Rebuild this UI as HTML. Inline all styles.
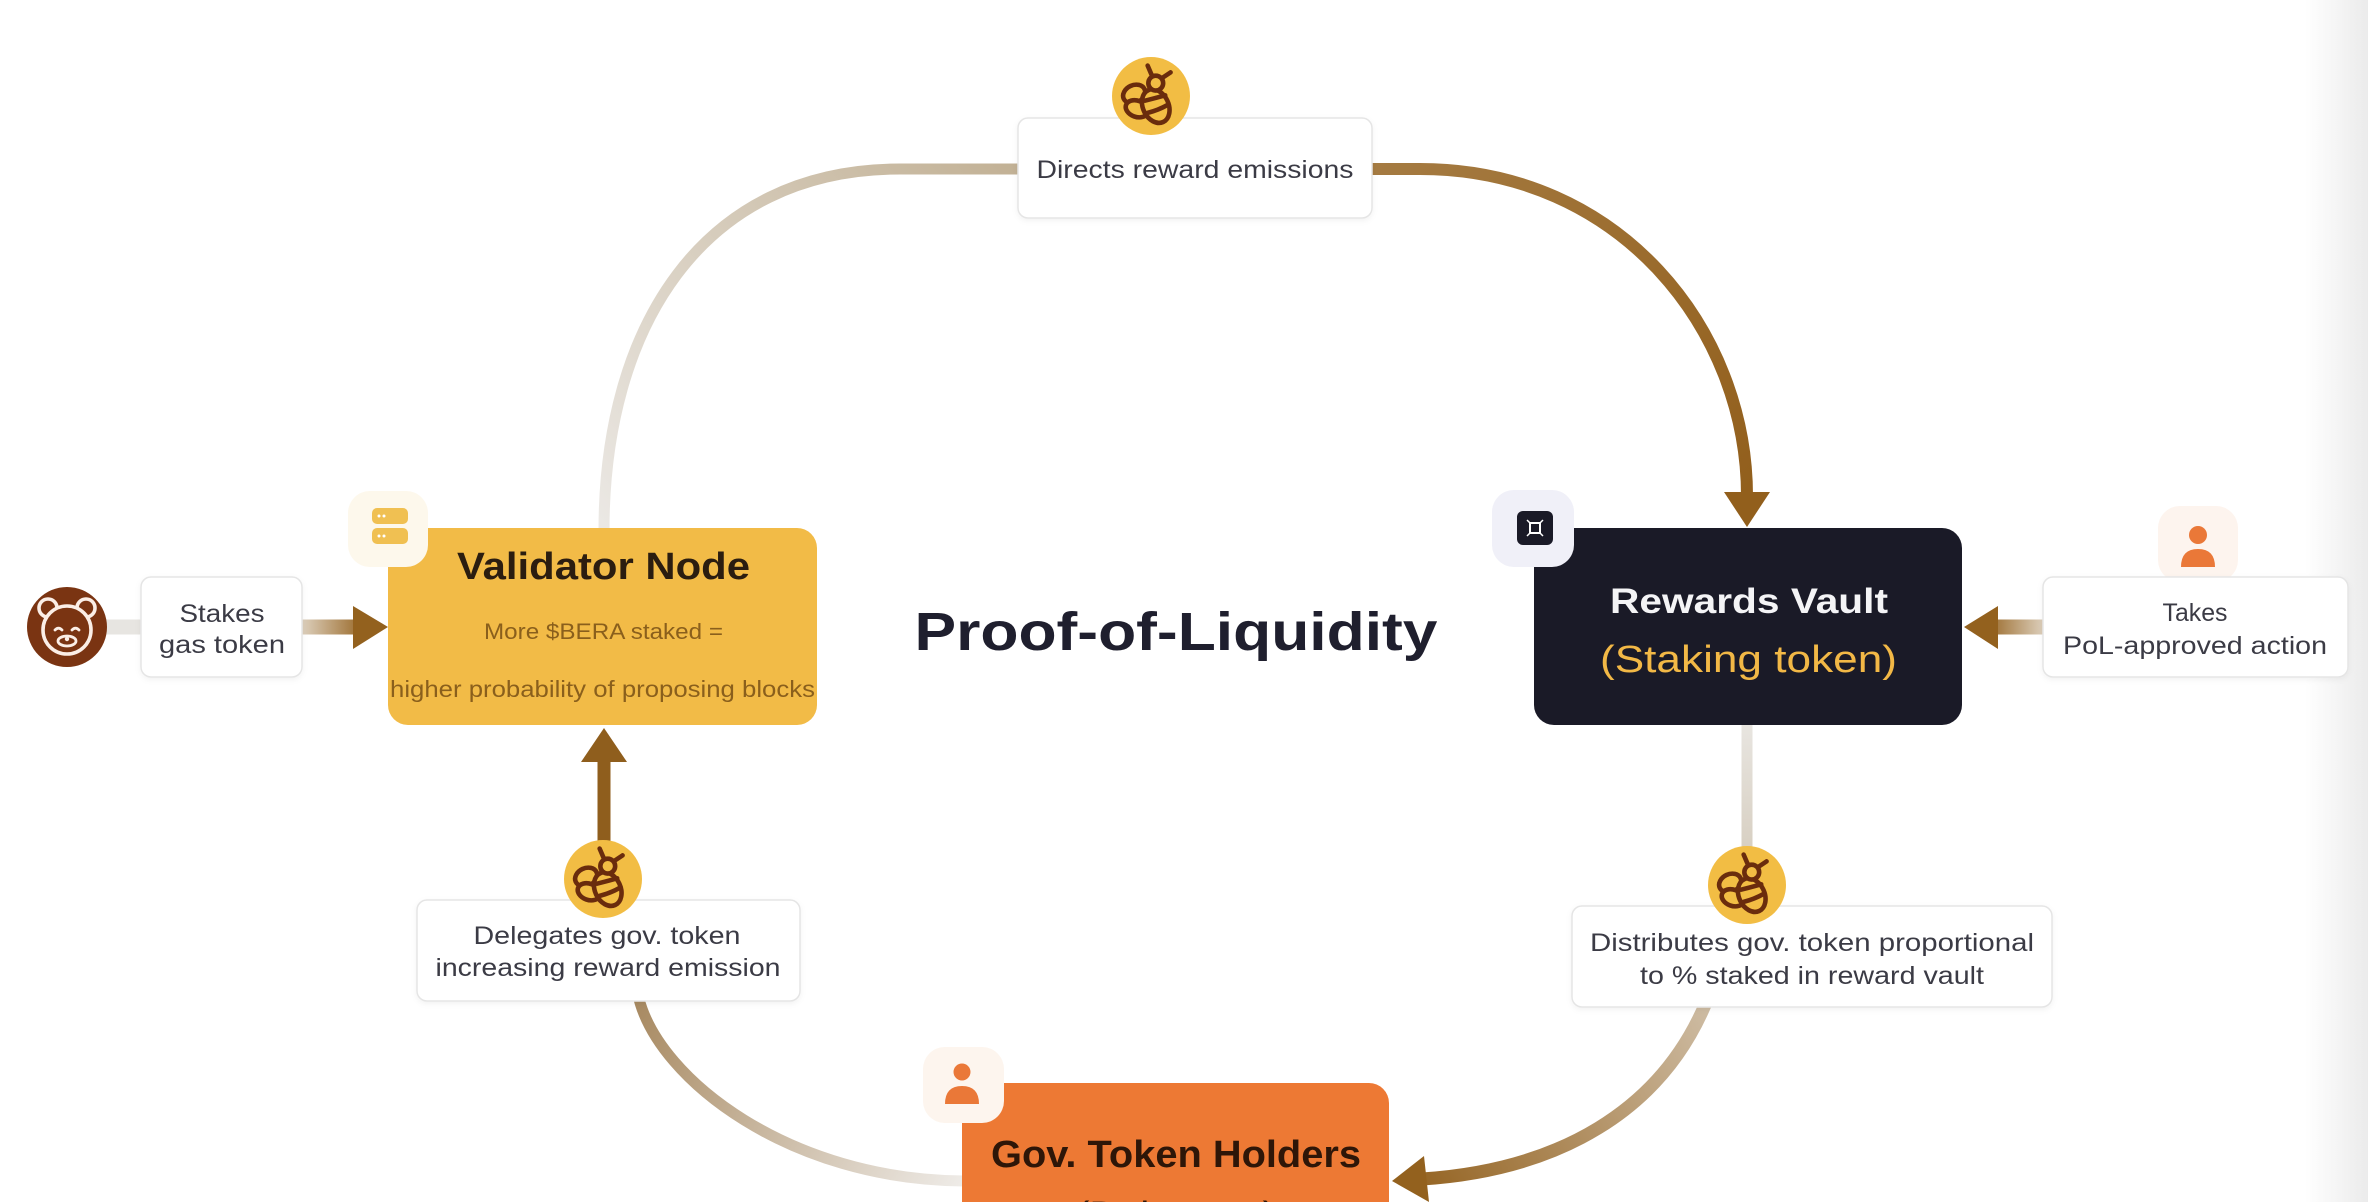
<!DOCTYPE html>
<html>
<head>
<meta charset="utf-8">
<style>
  html,body{margin:0;padding:0;background:#ffffff;}
  svg{display:block;}
  text{font-family:"Liberation Sans", Arial, sans-serif;}
</style>
</head>
<body>
<svg width="2368" height="1202" viewBox="0 0 2368 1202" xmlns="http://www.w3.org/2000/svg">
  <defs>
    <linearGradient id="gL" gradientUnits="userSpaceOnUse" x1="604" y1="528" x2="1018" y2="169">
      <stop offset="0" stop-color="#ebe8e4"/>
      <stop offset="1" stop-color="#c2b195"/>
    </linearGradient>
    <linearGradient id="gR" gradientUnits="userSpaceOnUse" x1="1371" y1="169" x2="1747" y2="494">
      <stop offset="0" stop-color="#a57b42"/>
      <stop offset="1" stop-color="#925f1c"/>
    </linearGradient>
    <linearGradient id="gV" gradientUnits="userSpaceOnUse" x1="1747" y1="725" x2="1747" y2="846">
      <stop offset="0" stop-color="#e8e5e0"/>
      <stop offset="1" stop-color="#d8d0c3"/>
    </linearGradient>
    <linearGradient id="gD" gradientUnits="userSpaceOnUse" x1="1705" y1="1007" x2="1400" y2="1180">
      <stop offset="0" stop-color="#cdbba2"/>
      <stop offset="1" stop-color="#93611e"/>
    </linearGradient>
    <linearGradient id="gB" gradientUnits="userSpaceOnUse" x1="639" y1="1001" x2="962" y2="1181">
      <stop offset="0" stop-color="#a88a62"/>
      <stop offset="1" stop-color="#eeebe7"/>
    </linearGradient>
    <linearGradient id="gS" gradientUnits="userSpaceOnUse" x1="302" y1="0" x2="388" y2="0">
      <stop offset="0" stop-color="#ddd0bd"/>
      <stop offset="0.7" stop-color="#9a6a2a"/>
      <stop offset="1" stop-color="#93611e"/>
    </linearGradient>
    <linearGradient id="gT" gradientUnits="userSpaceOnUse" x1="2044" y1="0" x2="1964" y2="0">
      <stop offset="0" stop-color="#ddd0bd"/>
      <stop offset="0.7" stop-color="#9a6a2a"/>
      <stop offset="1" stop-color="#93611e"/>
    </linearGradient>
    <linearGradient id="gEdge" gradientUnits="userSpaceOnUse" x1="2305" y1="0" x2="2368" y2="0">
      <stop offset="0" stop-color="#ffffff"/>
      <stop offset="1" stop-color="#ebebeb"/>
    </linearGradient>
    <filter id="sh" x="-10%" y="-20%" width="120%" height="150%">
      <feDropShadow dx="0" dy="2" stdDeviation="3" flood-color="#000" flood-opacity="0.05"/>
    </filter>
    <g id="bee">
      <g transform="scale(1.35)" fill="#f2bd44" stroke="#6a2c0d" stroke-width="3.4" stroke-linejoin="round" stroke-linecap="round">
        <path d="M2,-17 L-1,-24" fill="none"/>
        <path d="M10,-15 L16,-19" fill="none"/>
        <ellipse cx="-11" cy="-3" rx="8.5" ry="6.5" transform="rotate(-25 -11 -3)"/>
        <ellipse cx="-9" cy="8" rx="8.5" ry="6" transform="rotate(20 -9 8)"/>
        <ellipse cx="5" cy="6" rx="9.5" ry="13" transform="rotate(-25 5 6)"/>
        <path d="M-3,2 Q5,0 12,-2" fill="none"/>
        <path d="M-1,11 Q7,9 14,5" fill="none"/>
        <circle cx="5" cy="-11" r="5.5"/>
      </g>
    </g>
  </defs>

  <rect x="0" y="0" width="2368" height="1202" fill="#ffffff"/>
  <rect x="2305" y="0" width="63" height="1202" fill="url(#gEdge)"/>

  <!-- connectors -->
  <path d="M604,530 C604,330 700,169 900,169 L1020,169" fill="none" stroke="url(#gL)" stroke-width="11"/>
  <path d="M1368,169 L1420,169 C1620,169 1747,330 1747,496" fill="none" stroke="url(#gR)" stroke-width="12"/>
  <polygon points="1724,492 1770,492 1747,527" fill="#925f1c"/>

  <line x1="1747" y1="725" x2="1747" y2="848" stroke="url(#gV)" stroke-width="11"/>

  <path d="M1705,1005 C1660,1110 1560,1170 1422,1179" fill="none" stroke="url(#gD)" stroke-width="13"/>
  <polygon points="1392,1181 1424,1156 1429,1202" fill="#93611e"/>

  <path d="M639,999 C660,1080 790,1180 964,1181" fill="none" stroke="url(#gB)" stroke-width="11"/>

  <line x1="604" y1="842" x2="604" y2="758" stroke="#8f5e1d" stroke-width="13"/>
  <polygon points="581,762 627,762 604,728" fill="#8f5e1d"/>

  <line x1="105" y1="627" x2="143" y2="627" stroke="#e7e5e1" stroke-width="15"/>
  <line x1="300" y1="627" x2="356" y2="627" stroke="url(#gS)" stroke-width="15"/>
  <polygon points="353,606 353,649 388,627" fill="#93611e"/>

  <line x1="2046" y1="627" x2="1994" y2="627" stroke="url(#gT)" stroke-width="15"/>
  <polygon points="1998,606 1998,649 1964,627" fill="#93611e"/>

  <!-- main nodes -->
  <rect x="388" y="528" width="429" height="197" rx="20" fill="#f2bb47"/>
  <rect x="1534" y="528" width="428" height="197" rx="20" fill="#1a1a27"/>
  <rect x="962" y="1083" width="427" height="170" rx="20" fill="#ed7934"/>

  <!-- badges -->
  <rect x="348" y="491" width="80" height="76" rx="22" fill="#fdf8ec"/>
  <rect x="372" y="508" width="36" height="16" rx="5" fill="#f0c052"/>
  <rect x="372" y="528" width="36" height="16" rx="5" fill="#f0c052"/>
  <circle cx="379" cy="516" r="1.5" fill="#fff"/><circle cx="384" cy="516" r="1.5" fill="#fff"/>
  <circle cx="379" cy="536" r="1.5" fill="#fff"/><circle cx="384" cy="536" r="1.5" fill="#fff"/>

  <rect x="1492" y="490" width="82" height="77" rx="22" fill="#f0f0f8"/>
  <rect x="1517" y="511" width="36" height="34" rx="6" fill="#1a1a27"/>
  <rect x="1530" y="523" width="10" height="10" fill="none" stroke="#ffffff" stroke-width="2"/>
  <path d="M1527,520 l3,3 M1543,520 l-3,3 M1527,536 l3,-3 M1543,536 l-3,-3" stroke="#fff" stroke-width="1.5"/>

  <rect x="923" y="1047" width="81" height="76" rx="22" fill="#fdf5ee"/>
  <circle cx="962" cy="1072" r="8.5" fill="#ea7838"/>
  <path d="M945,1104 Q945,1086 962,1086 Q979,1086 979,1104 Z" fill="#ea7838"/>

  <rect x="2158" y="506" width="80" height="76" rx="22" fill="#fdf4ee"/>
  <circle cx="2198" cy="535" r="9" fill="#ea7838"/>
  <path d="M2181,567 Q2181,549 2198,549 Q2215,549 2215,567 Z" fill="#ea7838"/>

  <!-- label boxes -->
  <g filter="url(#sh)" fill="#ffffff" stroke="#e5e5e5" stroke-width="1.5">
    <rect x="1018" y="118" width="354" height="100" rx="10"/>
    <rect x="141" y="577" width="161" height="100" rx="10"/>
    <rect x="2043" y="577" width="305" height="100" rx="10"/>
    <rect x="417" y="900" width="383" height="101" rx="10"/>
    <rect x="1572" y="906" width="480" height="101" rx="10"/>
  </g>

  <!-- bee icons -->
  <circle cx="1151" cy="96" r="39" fill="#f2bd44"/>
  <use href="#bee" x="1149" y="98"/>
  <circle cx="603" cy="879" r="39" fill="#f2bd44"/>
  <use href="#bee" x="601" y="881"/>
  <circle cx="1747" cy="885" r="39" fill="#f2bd44"/>
  <use href="#bee" x="1745" y="887"/>

  <!-- bear icon -->
  <circle cx="67" cy="627" r="40" fill="#7a3412"/>
  <g fill="#7a3412" stroke="#fbeee6" stroke-width="3.6">
    <circle cx="48" cy="608" r="9"/>
    <circle cx="86" cy="608" r="9"/>
    <circle cx="67" cy="630" r="24"/>
  </g>
  <path d="M55,630 q3.5,-3.5 7,0 M72,630 q3.5,-3.5 7,0" fill="none" stroke="#fbeee6" stroke-width="2.8" stroke-linecap="round"/>
  <ellipse cx="67" cy="641" rx="9" ry="5" fill="none" stroke="#fbeee6" stroke-width="2.8"/>
  <circle cx="67" cy="639" r="2.2" fill="#fbeee6"/>

  <!-- title -->
  <text x="1176" y="650" font-size="54" font-weight="bold" fill="#1f1f2e" text-anchor="middle" textLength="523" lengthAdjust="spacingAndGlyphs">Proof-of-Liquidity</text>

  <!-- node texts -->
  <text x="603.5" y="579" font-size="38" font-weight="bold" fill="#2b1d10" text-anchor="middle" textLength="293" lengthAdjust="spacingAndGlyphs">Validator Node</text>
  <text x="603.5" y="639" font-size="22" fill="#8a5f1c" text-anchor="middle" textLength="239" lengthAdjust="spacingAndGlyphs">More $BERA staked =</text>
  <text x="602.5" y="697" font-size="23" fill="#8a5f1c" text-anchor="middle" textLength="425" lengthAdjust="spacingAndGlyphs">higher probability of proposing blocks</text>

  <text x="1749" y="613" font-size="35" font-weight="bold" fill="#f4f4f6" text-anchor="middle" textLength="278" lengthAdjust="spacingAndGlyphs">Rewards Vault</text>
  <text x="1748.5" y="672" font-size="38" fill="#f2b846" text-anchor="middle" textLength="297" lengthAdjust="spacingAndGlyphs">(Staking token)</text>

  <text x="1176" y="1167" font-size="38" font-weight="bold" fill="#2e1608" text-anchor="middle" textLength="370" lengthAdjust="spacingAndGlyphs">Gov. Token Holders</text>
  <text x="1176" y="1228" font-size="38" fill="#2e1608" text-anchor="middle" textLength="200" lengthAdjust="spacingAndGlyphs">(Delegator)</text>

  <!-- label texts -->
  <g font-size="25" fill="#3b3b45" text-anchor="middle">
    <text x="1195" y="178" textLength="317" lengthAdjust="spacingAndGlyphs">Directs reward emissions</text>
    <text x="222" y="622" textLength="85" lengthAdjust="spacingAndGlyphs">Stakes</text>
    <text x="222" y="653" textLength="126" lengthAdjust="spacingAndGlyphs">gas token</text>
    <text x="2195" y="621" textLength="65" lengthAdjust="spacingAndGlyphs">Takes</text>
    <text x="2195" y="654" textLength="264" lengthAdjust="spacingAndGlyphs">PoL-approved action</text>
    <text x="607" y="944" textLength="267" lengthAdjust="spacingAndGlyphs">Delegates gov. token</text>
    <text x="608" y="976" textLength="345" lengthAdjust="spacingAndGlyphs">increasing reward emission</text>
    <text x="1812" y="951" textLength="444" lengthAdjust="spacingAndGlyphs">Distributes gov. token proportional</text>
    <text x="1812" y="984" textLength="344" lengthAdjust="spacingAndGlyphs">to % staked in reward vault</text>
  </g>
</svg>
</body>
</html>
